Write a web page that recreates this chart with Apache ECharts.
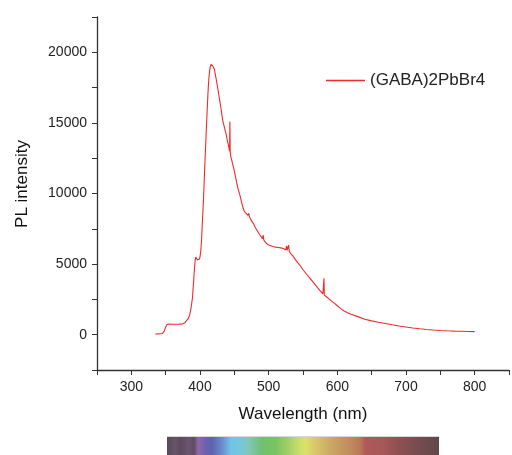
<!DOCTYPE html>
<html>
<head>
<meta charset="utf-8">
<script src="https://cdn.jsdelivr.net/npm/echarts@6/dist/echarts.min.js"></script>
<style>
  html, body { margin: 0; padding: 0; background: #fff; }
  #main { width: 512px; height: 455px; }
</style>
</head>
<body>
<div id="main"></div>
<script>
// PL spectrum
var wavelength = [335, 340, 345, 348, 350, 352, 355, 360, 365, 370, 375, 378, 380, 383, 385, 387, 389, 390, 391, 392,
  393, 394, 395, 396, 397, 398, 399, 400, 401, 402, 403, 405, 407, 409, 411, 412, 413, 414, 415, 416,
  417, 418, 419, 420, 421, 422, 424, 426, 428, 430, 433, 436, 438, 440, 442, 443, 443.5, 444, 445, 447,
  450, 453, 455, 458, 460, 462, 464, 466, 468, 470, 471, 472, 474, 476, 478, 480, 483, 486, 489, 491,
  492, 493, 495, 497, 500, 503, 506, 510, 514, 518, 522, 525, 526, 527, 528, 529, 530, 531, 532, 535,
  540, 545, 550, 555, 560, 565, 570, 575, 579, 580, 580.5, 581, 583, 585, 590, 595, 600, 605, 610, 615,
  620, 630, 640, 650, 660, 670, 680, 690, 700, 710, 720, 730, 740, 750, 760, 770, 780, 790, 800];
var intensity = [50, 55, 80, 250, 550, 720, 760, 740, 740, 750, 770, 850, 950, 1150, 1400, 1900, 2600, 3300, 4000, 4700,
  5300, 5500, 5450, 5300, 5250, 5200, 5350, 5500, 5900, 6500, 7500, 9500, 12000, 14300, 16500, 17500, 18200, 18700, 19000, 19150,
  19150, 19100, 19000, 18900, 18800, 18500, 18000, 17400, 16800, 16200, 15200, 14600, 14200, 13700, 13300, 13000, 15100, 12900, 12600, 12200,
  11600, 10900, 10400, 9900, 9500, 9100, 8800, 8650, 8550, 8450, 8600, 8350, 8150, 8050, 7850, 7650, 7400, 7150, 6950, 6800,
  7050, 6700, 6600, 6450, 6350, 6300, 6250, 6200, 6180, 6150, 6080, 6000, 6300, 5980, 6050, 6350, 5900, 5850, 5750, 5600,
  5250, 4950, 4600, 4300, 4000, 3700, 3400, 3100, 2900, 2850, 4000, 2800, 2700, 2650, 2450, 2250, 2050, 1850, 1680, 1550,
  1450, 1280, 1100, 980, 880, 790, 700, 620, 550, 480, 420, 370, 330, 300, 275, 255, 240, 225, 215];

var xTickLabels = [300, 400, 500, 600, 700, 800];
var yTickLabels = [0, 5000, 10000, 15000, 20000];
var seriesName = '(GABA)2PbBr4';

var chart = echarts.init(document.getElementById('main'), null, { renderer: 'canvas' });

var points = [];
for (var i = 0; i < wavelength.length; i++) {
  points.push([wavelength[i], intensity[i]]);
}

var axisColor = '#333';
var font = 'Liberation Sans, Arial, sans-serif';

var option = {
  animation: false,
  textStyle: { fontFamily: font },
  grid: { left: 97, right: 0, top: 17, bottom: 85 },
  legend: {
    left: 326,
    top: 72,
    padding: 0,
    icon: 'rect',
    itemWidth: 39,
    itemHeight: 1.5,
    itemGap: 6,
    textStyle: { fontSize: 17, color: '#222', fontFamily: font },
    data: [seriesName]
  },
  xAxis: {
    type: 'value',
    min: 250,
    max: 850,
    interval: 50,
    name: 'Wavelength (nm)',
    nameLocation: 'middle',
    nameGap: 36,
    nameTextStyle: { fontSize: 17, color: '#111', fontFamily: font },
    axisLine: { onZero: false, lineStyle: { color: axisColor, width: 1.3 } },
    axisTick: { inside: false, length: 5, lineStyle: { color: axisColor } },
    axisLabel: {
      margin: 10,
      fontSize: 14,
      color: '#222',
      formatter: function (v) {
        return xTickLabels.indexOf(v) >= 0 ? String(v) : '';
      }
    },
    splitLine: { show: false }
  },
  yAxis: {
    type: 'value',
    min: -2500,
    max: 22500,
    interval: 2500,
    name: 'PL intensity',
    nameLocation: 'middle',
    nameGap: 66,
    nameTextStyle: { fontSize: 17, color: '#111', fontFamily: font, padding: [0, 0, 0, 19] },
    axisLine: { show: true, lineStyle: { color: axisColor, width: 1.3 } },
    axisTick: { show: true, inside: false, length: 5, lineStyle: { color: axisColor } },
    axisLabel: {
      margin: 10,
      fontSize: 14,
      color: '#222',
      formatter: function (v) {
        return yTickLabels.indexOf(v) >= 0 ? String(v) : '';
      }
    },
    splitLine: { show: false }
  },
  series: [
    {
      name: seriesName,
      type: 'line',
      data: points,
      showSymbol: false,
      symbol: 'none',
      color: '#f02a2a',
      lineStyle: { width: 1.1, color: '#f02a2a' }
    }
  ],
  // colour strip under the axis title
  graphic: [
    {
      type: 'rect',
      shape: { x: 167, y: 436, width: 272, height: 19 },
      style: {
        fill: {
          type: 'linear', x: 0, y: 0, x2: 1, y2: 0,
          colorStops: [
            { offset: 0, color: '#5a4858' },
            { offset: 0.03, color: '#665468' },
            { offset: 0.05, color: '#5c4a5c' },
            { offset: 0.08, color: '#6a5670' },
            { offset: 0.1, color: '#5e4c64' },
            { offset: 0.114, color: '#9068a8' },
            { offset: 0.14, color: '#7060b0' },
            { offset: 0.165, color: '#5a64b0' },
            { offset: 0.2, color: '#6a88cc' },
            { offset: 0.235, color: '#70c4e4' },
            { offset: 0.27, color: '#74c8d8' },
            { offset: 0.3, color: '#80c8b8' },
            { offset: 0.35, color: '#70c070' },
            { offset: 0.4, color: '#78c460' },
            { offset: 0.45, color: '#a8d068' },
            { offset: 0.49, color: '#cce068' },
            { offset: 0.51, color: '#dce068' },
            { offset: 0.545, color: '#d8c868' },
            { offset: 0.6, color: '#cca864' },
            { offset: 0.67, color: '#c08c5c' },
            { offset: 0.71, color: '#b87858' },
            { offset: 0.73, color: '#b05858' },
            { offset: 0.79, color: '#a85858' },
            { offset: 0.85, color: '#905050' },
            { offset: 0.92, color: '#784c50' },
            { offset: 1, color: '#604848' }
          ]
        }
      }
    },
    {
      type: 'rect',
      shape: { x: 167, y: 436, width: 272, height: 1 },
      style: { fill: '#d8d8d8' }
    }
  ]
};

chart.setOption(option);
</script>
</body>
</html>
